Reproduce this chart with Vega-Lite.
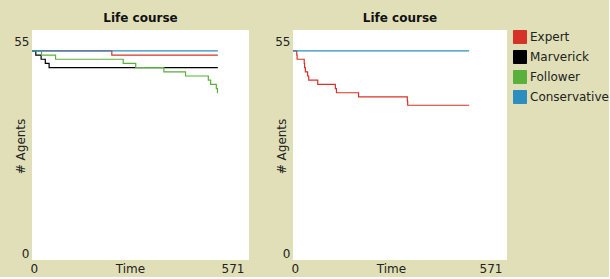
{
  "$schema": "https://vega.github.io/schema/vega-lite/v6.json",
  "background": "#e0dfb8",
  "padding": {"left": 13, "top": 12, "right": 0, "bottom": 3},
  "bounds": "flush",
  "spacing": 44,
  "datasets": {
    "left": [
      {"type": "Expert", "time": 0, "agents": 50},
      {"type": "Expert", "time": 210, "agents": 49},
      {"type": "Expert", "time": 489, "agents": 49},
      {"type": "Marverick", "time": 0, "agents": 50},
      {"type": "Marverick", "time": 10, "agents": 49},
      {"type": "Marverick", "time": 24, "agents": 48},
      {"type": "Marverick", "time": 35, "agents": 47},
      {"type": "Marverick", "time": 45, "agents": 46},
      {"type": "Marverick", "time": 489, "agents": 46},
      {"type": "Follower", "time": 0, "agents": 50},
      {"type": "Follower", "time": 25, "agents": 49},
      {"type": "Follower", "time": 62, "agents": 48},
      {"type": "Follower", "time": 240, "agents": 47},
      {"type": "Follower", "time": 273, "agents": 46},
      {"type": "Follower", "time": 347, "agents": 45},
      {"type": "Follower", "time": 404, "agents": 44},
      {"type": "Follower", "time": 464, "agents": 43},
      {"type": "Follower", "time": 470, "agents": 42},
      {"type": "Follower", "time": 485, "agents": 41},
      {"type": "Follower", "time": 488, "agents": 40},
      {"type": "Follower", "time": 489, "agents": 40},
      {"type": "Conservative", "time": 0, "agents": 50},
      {"type": "Conservative", "time": 489, "agents": 50}
    ],
    "right": [
      {"type": "Expert", "time": 0, "agents": 50},
      {"type": "Expert", "time": 10, "agents": 49},
      {"type": "Expert", "time": 11, "agents": 48},
      {"type": "Expert", "time": 30, "agents": 47},
      {"type": "Expert", "time": 31, "agents": 46},
      {"type": "Expert", "time": 33, "agents": 45},
      {"type": "Expert", "time": 39, "agents": 44},
      {"type": "Expert", "time": 42, "agents": 43},
      {"type": "Expert", "time": 66, "agents": 42},
      {"type": "Expert", "time": 113, "agents": 41},
      {"type": "Expert", "time": 116, "agents": 40},
      {"type": "Expert", "time": 175, "agents": 39},
      {"type": "Expert", "time": 305, "agents": 38},
      {"type": "Expert", "time": 306, "agents": 37},
      {"type": "Expert", "time": 470, "agents": 37},
      {"type": "Conservative", "time": 0, "agents": 50},
      {"type": "Conservative", "time": 470, "agents": 50}
    ]
  },
  "config": {
    "view": {"fill": "white", "stroke": null},
    "font": "DejaVu Sans",
    "title": {"fontSize": 12, "fontWeight": "bold", "color": "#111", "frame": "group", "anchor": "middle", "offset": 5},
    "axis": {"ticks": false, "domain": false, "grid": false, "labelFontSize": 12, "labelColor": "#222", "titleFontSize": 12, "titleFontWeight": "normal", "titleColor": "#222"}
  },
  "hconcat": [
    {
      "width": 217,
      "height": 230,
      "title": "Life course",
      "data": {"name": "left"},
      "mark": {"type": "line", "interpolate": "step-after", "strokeWidth": 1.2},
      "encoding": {
        "x": {"field": "time", "type": "quantitative", "scale": {"domain": [0, 571], "nice": false},
          "axis": {"title": "Time", "values": [0, 571], "labelFlush": true, "labelPadding": 3, "labelOffset": {"condition": {"test": "datum.value == 571", "value": -5}, "value": -2}, "titleX": 98, "titleY": 3, "titleAlign": "center", "titleBaseline": "top"}},
        "y": {"field": "agents", "type": "quantitative", "scale": {"domain": [0, 55], "nice": false},
          "axis": {"title": "# Agents", "values": [0, 55], "labelFlush": false, "labelPadding": 3, "labelOffset": {"condition": {"test": "datum.value == 55", "value": 11}, "value": -7}, "titleX": -12, "titleY": 116, "titleAngle": 270, "titleAlign": "center", "titleBaseline": "middle"}},
        "color": {"field": "type", "type": "nominal", "sort": null,
          "scale": {"domain": ["Expert", "Marverick", "Follower", "Conservative"], "range": ["#d73229", "#000000", "#59b03c", "#2d8dbe"]},
          "legend": {"orient": "right", "offset": 6, "padding": 0, "title": null, "symbolType": "square", "symbolSize": 169, "symbolStrokeWidth": 1, "labelFontSize": 12, "labelColor": "#222", "labelOffset": 3, "rowPadding": 2,
            "encode": {"symbols": {"update": {"fill": {"scale": "color", "field": "value"}, "stroke": {"value": "#333"}, "opacity": {"value": 1}}}}}}
      }
    },
    {
      "width": 214,
      "height": 230,
      "title": "Life course",
      "data": {"name": "right"},
      "mark": {"type": "line", "interpolate": "step-after", "strokeWidth": 1.2},
      "encoding": {
        "x": {"field": "time", "type": "quantitative", "scale": {"domain": [0, 571], "nice": false},
          "axis": {"title": "Time", "values": [0, 571], "labelFlush": true, "labelPadding": 3, "labelOffset": {"condition": {"test": "datum.value == 571", "value": -5}, "value": -2}, "titleX": 98, "titleY": 3, "titleAlign": "center", "titleBaseline": "top"}},
        "y": {"field": "agents", "type": "quantitative", "scale": {"domain": [0, 55], "nice": false},
          "axis": {"title": "# Agents", "values": [0, 55], "labelFlush": false, "labelPadding": 3, "labelOffset": {"condition": {"test": "datum.value == 55", "value": 11}, "value": -7}, "titleX": -12, "titleY": 116, "titleAngle": 270, "titleAlign": "center", "titleBaseline": "middle"}},
        "color": {"field": "type", "type": "nominal", "sort": null,
          "scale": {"domain": ["Expert", "Marverick", "Follower", "Conservative"], "range": ["#d73229", "#000000", "#59b03c", "#2d8dbe"]},
          "legend": {"orient": "right", "offset": 6, "padding": 0, "title": null, "symbolType": "square", "symbolSize": 169, "symbolStrokeWidth": 1, "labelFontSize": 12, "labelColor": "#222", "labelOffset": 3, "rowPadding": 2,
            "encode": {"symbols": {"update": {"fill": {"scale": "color", "field": "value"}, "stroke": {"value": "#333"}, "opacity": {"value": 1}}}}}}
      }
    }
  ]
}
